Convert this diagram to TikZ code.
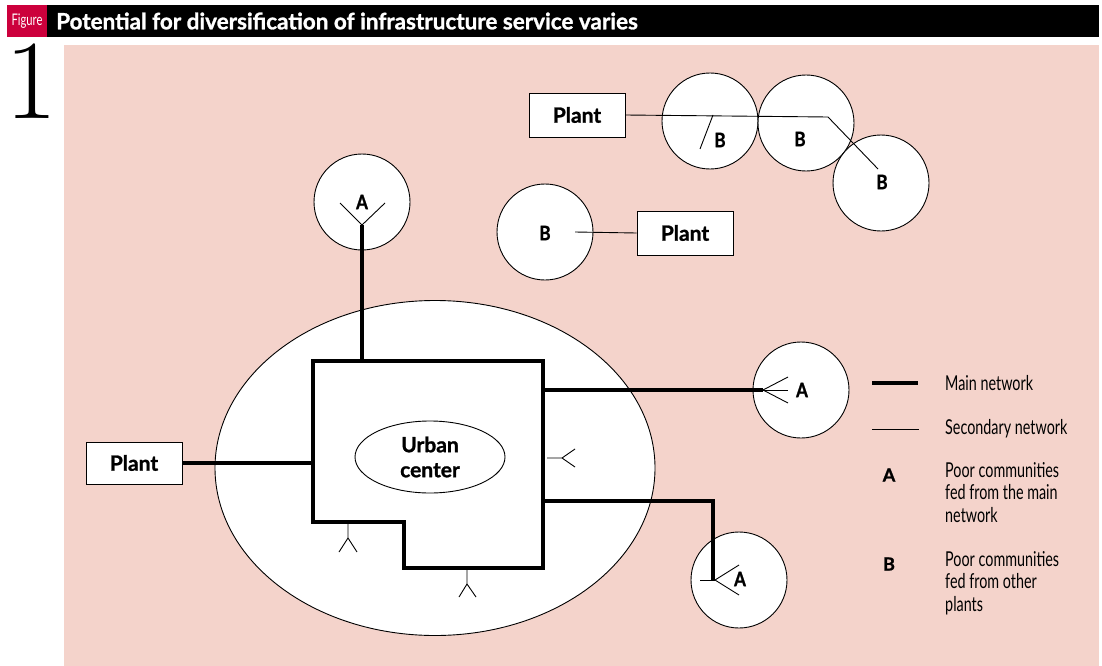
\documentclass[tikz,border=0pt]{standalone}
\usepackage{fontspec}
\newfontfamily\sansc[FakeStretch=0.85, BoldFeatures={FakeBold=1.2}]{Lato}
\newfontfamily\sansn[FakeStretch=0.7]{Lato}
\newfontfamily\sansl[BoldFeatures={FakeBold=1.2}]{Lato}
\usetikzlibrary{shapes.geometric}
\definecolor{bgpink}{RGB}{244,211,203}
\definecolor{figred}{RGB}{204,0,60}
\tikzset{
  mainnet/.style={line width=4pt, line join=miter},
  secnet/.style={line width=0.9pt},
  comm/.style={circle, draw, line width=0.9pt, fill=white, minimum size=96, inner sep=0},
  plantbox/.style={draw, line width=0.9pt, fill=white, minimum width=96, minimum height=44, inner sep=0, font=\sansl\bfseries\fontsize{21}{24}\selectfont},
  commlbl/.style={inner sep=0, font=\sansc\bfseries\fontsize{20}{24}\selectfont},
  legtxt/.style={inner sep=0, anchor=west, align=left, font=\sansn\fontsize{20.5}{22.5}\selectfont},
  leglbl/.style={inner sep=0, font=\sansl\bfseries\fontsize{18}{22}\selectfont}
}
\begin{document}
\begin{tikzpicture}[x=1pt,y=-1pt]
\useasboundingbox (0,0) rectangle (1102,666);
\fill[white] (0,0) rectangle (1102,666);
% header
\fill[figred] (7,5) rectangle (47,37);
\fill[black] (47,5) rectangle (1099,37);
\node[text=white, inner sep=0, font=\sansn\fontsize{16}{16}\selectfont] (figlbl) at (27,21) {Figure};
\node[anchor=west, text=white, inner sep=0, font=\sansl\bfseries\fontsize{22.5}{22.5}\selectfont] (title) at (56,21) {Potential for diversification of infrastructure service varies};
\node[anchor=base, inner sep=0, font=\fontsize{113}{113}\selectfont] (num) at (31,118) {1};
% background
\fill[bgpink] (64,45) rectangle (1099,666);

% city
\node[ellipse, draw, line width=0.9pt, fill=white, minimum width=440, minimum height=335, inner sep=0] (city) at (435,468) {};

% circles
\node[comm] (cA1) at (362,202) {};
\node[comm] (cA2) at (801,390) {};
\node[comm] (cA3) at (739,580) {};
\node[comm] (cB1) at (710,121) {};
\node[comm] (cB2) at (806,123) {};
\node[comm] (cB3) at (881,183) {};
\node[comm] (cB4) at (545,232) {};

% plants
\node[plantbox] (pT) at (577,115) {Plant};
\node[plantbox] (pM) at (685,233) {Plant};
\node[plantbox, minimum height=42] (pL) at (134,463) {Plant};

% urban center
\node[ellipse, draw, line width=0.9pt, fill=white, minimum width=150, minimum height=72, inner sep=0, align=center, font=\sansl\bfseries\fontsize{21}{25}\selectfont] (urban) at (430,457) {Urban\\center};

% coordinates
\coordinate (g1) at (313,361);
\coordinate (g2) at (543,361);
\coordinate (g3) at (543,568);
\coordinate (g4) at (404,568);
\coordinate (g5) at (404,522);
\coordinate (g6) at (313,522);
\coordinate (fA1) at (362,225);
\coordinate (tA1) at (362,361);
\coordinate (sL) at (313,463);
\coordinate (sR1) at (543,390);
\coordinate (fA2) at (763,390);
\coordinate (sR2) at (543,501);
\coordinate (kR2) at (713,501);
\coordinate (fA3) at (715,580);
\coordinate (j0) at (713,115);
\coordinate (j1) at (828,117);
\coordinate (e3) at (878,169);
\coordinate (e1) at (700,149);
\coordinate (bm) at (575,232);

% secondary network
\draw[secnet] (pT.east) -- (j1) -- (e3);
\draw[secnet] (j0) -- (e1);
\draw[secnet] (bm) -- (pM.west);

% forks
\draw[secnet] (340,203) -- (fA1) -- (385,203);
\draw[secnet] (fA2) -- (788,377);
\draw[secnet] (fA2) -- (788,390);
\draw[secnet] (fA2) -- (788,403);
\draw[secnet] (700,580) -- (fA3);
\draw[secnet] (fA3) -- (739,565);
\draw[secnet] (fA3) -- (739,595);
\draw[secnet] (547,458) -- (562,458) coordinate (fc) -- (575,449);
\draw[secnet] (fc) -- (575,467);
\draw[secnet] (348,524) -- (348,538) coordinate (fd) -- (339,552);
\draw[secnet] (fd) -- (357,552);
\draw[secnet] (467,570) -- (467,584) coordinate (fe) -- (459,597);
\draw[secnet] (fe) -- (476,597);

% main network
\draw[mainnet] (g1) -- (g2) -- (g3) -- (g4) -- (g5) -- (g6) -- cycle;
\draw[mainnet] (fA1) -- (tA1);
\draw[mainnet] (pL.east) -- (sL);
\draw[mainnet] (sR1) -- (fA2);
\draw[mainnet] (sR2) -- (kR2) -- (713,580) coordinate (eA3);

% community labels
\node[commlbl] (lA1) at (362,202) {A};
\node[commlbl] (lA2) at (802,390) {A};
\node[commlbl] (lA3) at (740,579) {A};
\node[commlbl] (lB1) at (720,140) {B};
\node[commlbl] (lB2) at (800,139) {B};
\node[commlbl] (lB3) at (882,182) {B};
\node[commlbl] (lB4) at (545,233) {B};

% legend
\draw[mainnet] (872,383) coordinate (lg1) -- (918,383) coordinate (lg2);
\draw[secnet] (872,429) coordinate (lg3) -- (919,429) coordinate (lg4);
\node[legtxt] (t1) at (945,383) {Main network};
\node[legtxt] (t2) at (945,429) {Secondary network};
\node[leglbl] (lgA) at (889,475) {A};
\node[legtxt, anchor=north west] (t3) at (945,462) {Poor communities\\fed from the main\\network};
\node[leglbl] (lgB) at (889,564) {B};
\node[legtxt, anchor=north west] (t4) at (945,551) {Poor communities\\fed from other\\plants};
\end{tikzpicture}
\end{document}
